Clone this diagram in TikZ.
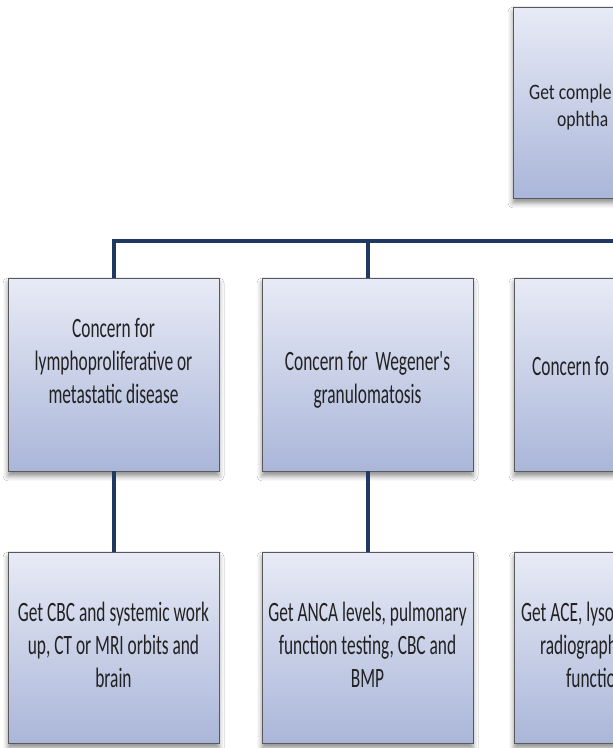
\documentclass[tikz,border=0pt]{standalone}
\usepackage{fontspec}
\usetikzlibrary{shadows.blur}
\newfontfamily\boxfont[FakeStretch=0.62]{Carlito}
\newfontfamily\topfont[FakeStretch=0.8]{Carlito}
\definecolor{boxtop}{HTML}{E8EBF6}
\definecolor{boxbot}{HTML}{AAB6D9}
\definecolor{conncol}{HTML}{1F3A62}
\definecolor{txtcol}{HTML}{222222}
\tikzset{
  box/.style={draw=black!65, line width=0.8pt, top color=boxtop, bottom color=boxbot,
    minimum width=211pt, minimum height=193pt, inner sep=0pt,
    blur shadow={shadow xshift=0pt, shadow yshift=-5pt, shadow blur radius=5pt, shadow opacity=45}},
  lowbox/.style={box, minimum height=191pt},
  conn/.style={draw=conncol, line width=4pt, line join=miter},
  txt/.style={inner sep=0pt, text=txtcol, font=\boxfont\fontsize{28}{33}\selectfont, anchor=base},
  txtl/.style={txt, anchor=base west},
  toptxt/.style={inner sep=0pt, text=txtcol, font=\topfont\fontsize{22}{26}\selectfont, anchor=base west}
}
\begin{document}
\begin{tikzpicture}[x=1pt,y=1pt]
\useasboundingbox (0,0) rectangle (613,748);
\fill[white] (0,0) rectangle (613,748);
\clip (0,0) rectangle (613,748);
% boxes
\node[box, minimum height=191pt] (top) at (618.5,645.5) {};
\node[box] (m1) at (113.5,373.5) {};
\node[box] (m2) at (367.5,373.5) {};
\node[box] (m3) at (619.5,373.5) {};
\node[lowbox] (l1) at (113.5,100.5) {};
\node[lowbox] (l2) at (367.5,100.5) {};
\node[lowbox] (l3) at (619.5,100.5) {};
% connectors
\coordinate (j) at (618.5,507);
\draw[conn] (top.south) -- (j);
\draw[conn] (m1.north) |- (m3.north |- j) -- (m3.north);
\draw[conn] (m2.north) -- (m2.north |- j);
\draw[conn] (m1.south) -- (l1.north);
\draw[conn] (m2.south) -- (l2.north);
\draw[conn] (m3.south) -- (l3.north);
% texts
\node[toptxt] (t1) at (529,648) {Get comple};
\node[toptxt] (t2) at (557,621) {ophtha};
\node[txt] (a1) at (113.5,410) {Concern for};
\node[txt] (a2) at (113.5,377) {lymphoproliferative or};
\node[txt] (a3) at (113.5,344) {metastatic disease};
\node[txt] (b1) at (367.5,377) {Concern for~ Wegener's};
\node[txt] (b2) at (367.5,344) {granulomatosis};
\node[txtl] (c1) at (532,372) {Concern fo};
\node[txt] (d1) at (113.5,126) {Get CBC and systemic work};
\node[txt] (d2) at (113.5,93) {up, CT or MRI orbits and};
\node[txt] (d3) at (113.5,60) {brain};
\node[txt] (e1) at (367.5,126) {Get ANCA levels, pulmonary};
\node[txt] (e2) at (367.5,93) {function testing, CBC and};
\node[txt] (e3) at (367.5,60) {BMP};
\node[txtl] (f1) at (521,126) {Get ACE, lyso};
\node[txtl] (f2) at (540,93) {radiograph};
\node[txtl] (f3) at (566,60) {functio};
\end{tikzpicture}
\end{document}
